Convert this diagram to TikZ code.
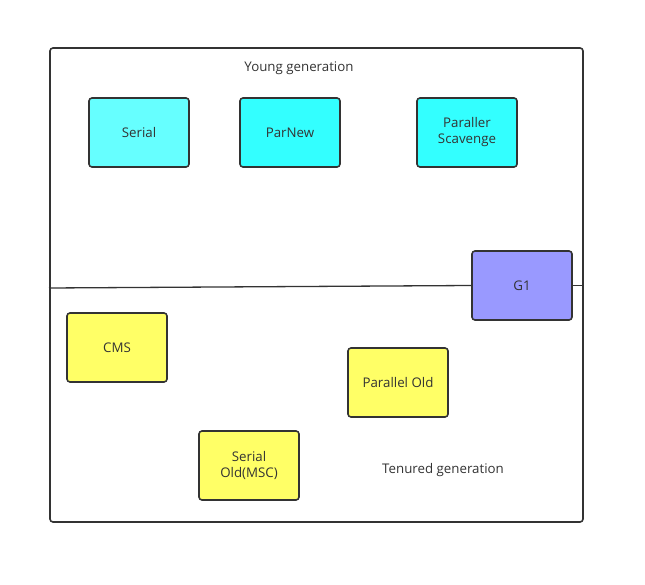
\documentclass[tikz,border=0pt]{standalone}
\usepackage{fontspec}
\setmainfont{Open Sans}
\begin{document}
\begin{tikzpicture}[x=1pt,y=-1pt,
  box/.style={draw=black!80, line width=1.6pt, rounded corners=3pt, minimum width=100pt, minimum height=69pt, inner sep=0pt, align=center, text=black!80, font=\fontsize{13.3}{16}\selectfont},
  lbl/.style={text=black!80, font=\fontsize{13.3}{16}\selectfont, inner sep=0pt}]
\useasboundingbox (0,0) rectangle (645,585);
\definecolor{cyanA}{HTML}{66FFFF}
\definecolor{cyanB}{HTML}{33FFFF}
\definecolor{gone}{HTML}{9999FF}
\definecolor{yel}{HTML}{FFFF66}
\node[draw=black!80, line width=1.6pt, rounded corners=3pt, minimum width=533pt, minimum height=474pt, inner sep=0pt] (frame) at (316.5,285) {};
\node[lbl] (young) at (299,68) {Young generation};
\node[lbl] (tenured) at (443,470) {Tenured generation};
\node[box, fill=cyanA] (serial) at (139,132.5) {Serial};
\node[box, fill=cyanB] (parnew) at (290,132.5) {ParNew};
\node[box, fill=cyanB] (ps) at (467,132.5) {Paraller\\Scavenge};
\node[box, fill=gone] (g1) at (522,285.5) {G1};
\node[box, fill=yel] (cms) at (117,347.5) {CMS};
\node[box, fill=yel] (po) at (398,382.5) {Parallel Old};
\node[box, fill=yel] (so) at (249,465.5) {Serial\\Old(MSC)};
\coordinate (lstart) at (49,288);
\coordinate (lend) at (583,285.5);
\draw[black!80, line width=1.3pt] (lstart) -- (g1.west);
\draw[black!80, line width=1.3pt] (g1.east) -- (lend);
\end{tikzpicture}
\end{document}
